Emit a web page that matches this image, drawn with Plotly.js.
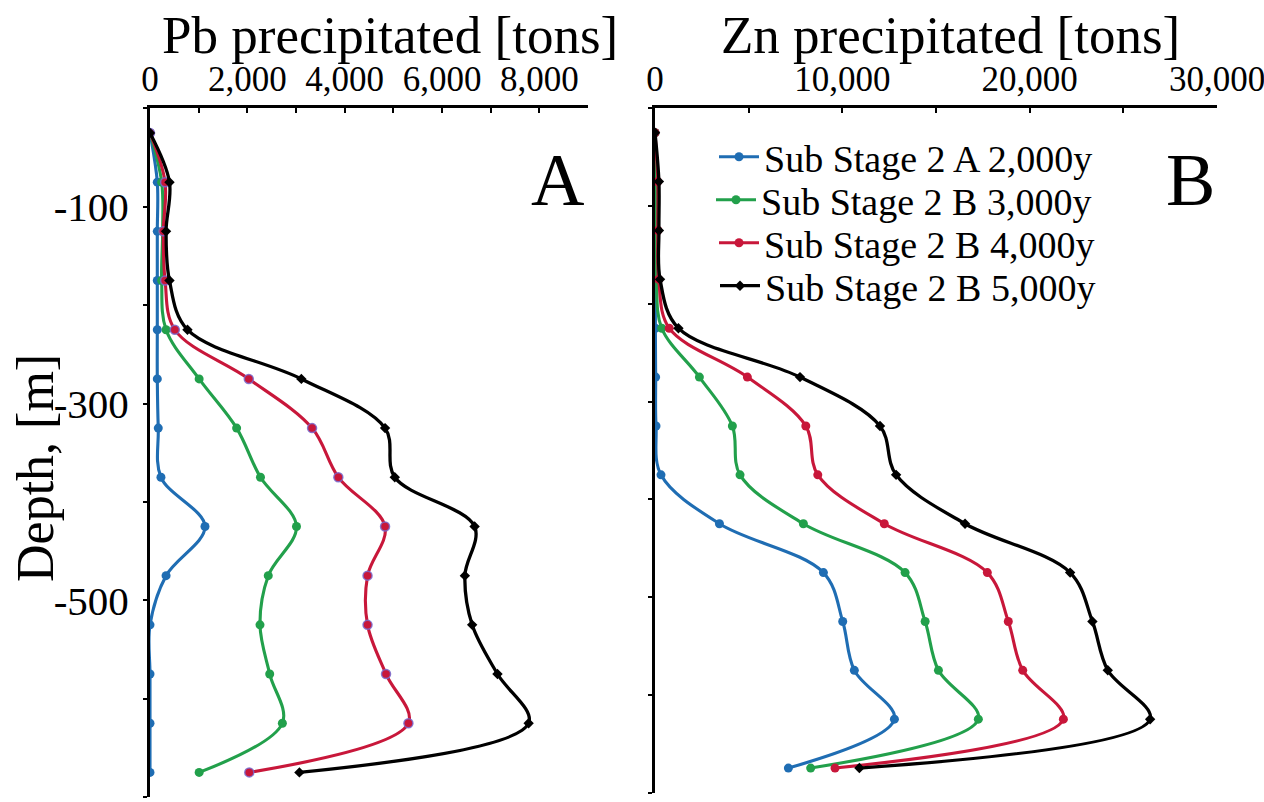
<!DOCTYPE html>
<html>
<head>
<meta charset="utf-8">
<script src="https://cdn.plot.ly/plotly-3.0.1.min.js"></script>
<style>
  html, body { margin: 0; padding: 0; background: #ffffff; }
  #chart { width: 1264px; height: 802px; }
</style>
</head>
<body>
<div id="chart"></div>
<script>
// ---------------- data ----------------
const depth = [-25, -75, -125, -175, -225, -275, -325, -375, -425, -475, -525, -575, -625, -675];

const seriesNames = [
  "Sub Stage 2 A 2,000y",
  "Sub Stage 2 B 3,000y",
  "Sub Stage 2 B 4,000y",
  "Sub Stage 2 B 5,000y"
];

// Pb precipitated [tons]
const pb2000 = [0, 150, 150, 150, 150, 150, 170, 225, 1130, 330, 0, 0, 0, 0];
const pb3000 = [0, 240, 260, 240, 330, 1010, 1780, 2270, 3010, 2430, 2260, 2460, 2720, 1010];
const pb4000 = [0, 310, 275, 310, 510, 2030, 3330, 3870, 4830, 4470, 4470, 4850, 5310, 2040];
const pb5000 = [0, 400, 330, 400, 770, 3110, 4830, 5030, 6670, 6470, 6620, 7140, 7780, 3070];

// Zn precipitated [tons]
const zn2000 = [0, 20, 20, 20, 20, 35, 55, 320, 3440, 8990, 10020, 10640, 12780, 7120];
const zn3000 = [0, 80, 80, 80, 360, 2370, 4130, 4540, 7920, 13350, 14420, 15130, 17260, 8310];
const zn4000 = [0, 150, 150, 200, 760, 4930, 8050, 8690, 12240, 17740, 18860, 19630, 21800, 9610];
const zn5000 = [0, 210, 210, 270, 1250, 7740, 12010, 12870, 16550, 22160, 23350, 24170, 26430, 10910];

const yTickVals = [-100, -300, -500, -700];
const yTickLabels = ["-100", "-300", "-500", "-700"];

const titleA = "Pb precipitated [tons]";
const titleB = "Zn precipitated [tons]";
const yTitle = "Depth, [m]";
const panelA = "A";
const panelB = "B";

// ---------------- styling ----------------
const W = 1264, H = 802;
const FONT = "Liberation Serif";
const colors = ["#1F6DB3", "#22A04B", "#C8173A", "#000000"];
const symbols = ["circle", "circle", "circle", "diamond"];
const lineW = [3.1, 3.1, 3.1, 3.3];
const mSize = [9, 9, 9, 8];

const px = v => v / W;
const py = v => 1 - v / H;

const pbSeries = [pb2000, pb3000, pb4000, pb5000];
const znSeries = [zn2000, zn3000, zn4000, zn5000];
const legendIds = ["legend", "legend2", "legend3", "legend4"];

const traces = [];
pbSeries.forEach((vals, i) => {
  traces.push({
    type: "scatter", mode: "lines+markers",
    x: vals, y: depth, xaxis: "x", yaxis: "y",
    name: seriesNames[i], showlegend: false, cliponaxis: true,
    line: { color: colors[i], width: lineW[i], shape: "spline", smoothing: 1 },
    marker: {
      color: colors[i], size: mSize[i], symbol: symbols[i],
      line: i === 2 ? { color: "rgba(120,105,205,0.85)", width: 1.5 } : { width: 0 }
    },
    hoverinfo: "skip"
  });
});
znSeries.forEach((vals, i) => {
  traces.push({
    type: "scatter", mode: "lines+markers",
    x: vals, y: depth, xaxis: "x2", yaxis: "y2",
    name: seriesNames[i], showlegend: true, legend: legendIds[i], cliponaxis: true,
    line: { color: colors[i], width: lineW[i], shape: "spline", smoothing: 1 },
    marker: { color: colors[i], size: mSize[i], symbol: symbols[i], line: { width: 0 } },
    hoverinfo: "skip"
  });
});

const axisCommon = {
  showline: true, linewidth: 3, linecolor: "#000",
  showgrid: false, zeroline: false,
  tickcolor: "#000", tickwidth: 2,
  fixedrange: true
};

// legend entry centres (px) and left offsets
const legY = [157, 200, 243, 286];
const legX = [714, 711, 714, 715];

const layout = {
  width: W, height: H,
  margin: { l: 0, r: 0, t: 0, b: 0 },
  paper_bgcolor: "#fff", plot_bgcolor: "#fff",
  font: { family: FONT, color: "#000" },
  xaxis: Object.assign({}, axisCommon, {
    domain: [px(150), px(588)], range: [0, 9000], anchor: "y", side: "top",
    tick0: 0, dtick: 2000, tickformat: ",d", ticks: "inside", ticklen: 5,
    minor: { dtick: 1000, tick0: 0, ticks: "inside", ticklen: 5, tickwidth: 2, tickcolor: "#000" },
    tickfont: { family: FONT, size: 35, color: "#000" },
    ticklabeloverflow: "allow"
  }),
  yaxis: Object.assign({}, axisCommon, {
    domain: [py(797), py(108.4)], range: [-700, 0], anchor: "x",
    tickmode: "array", tickvals: yTickVals, ticktext: yTickLabels,
    ticks: "outside", ticklen: 4,
    minor: { dtick: 100, tick0: 0, ticks: "outside", ticklen: 4, tickwidth: 2, tickcolor: "#000" },
    tickfont: { family: FONT, size: 41, color: "#000" },
    ticklabelstandoff: 6
  }),
  xaxis2: Object.assign({}, axisCommon, {
    domain: [px(655), px(1217)], range: [0, 30000], anchor: "y2", side: "top",
    tick0: 0, dtick: 10000, tickformat: ",d", ticks: "inside", ticklen: 5,
    minor: { dtick: 5000, tick0: 0, ticks: "inside", ticklen: 5, tickwidth: 2, tickcolor: "#000" },
    tickfont: { family: FONT, size: 35, color: "#000" },
    ticklabeloverflow: "allow"
  }),
  yaxis2: Object.assign({}, axisCommon, {
    domain: [py(792.5), py(108.3)], range: [-700, 0], anchor: "x2",
    showticklabels: false, tick0: 0, dtick: 100, ticks: "outside", ticklen: 4
  }),
  annotations: [
    { text: titleA, xref: "paper", yref: "paper", x: px(390), y: py(35), xanchor: "center", yanchor: "middle",
      showarrow: false, font: { family: FONT, size: 53, color: "#000" } },
    { text: titleB, xref: "paper", yref: "paper", x: px(950), y: py(35), xanchor: "center", yanchor: "middle",
      showarrow: false, font: { family: FONT, size: 53, color: "#000" } },
    { text: yTitle, xref: "paper", yref: "paper", x: px(36), y: py(468), xanchor: "center", yanchor: "middle",
      textangle: -90, showarrow: false, font: { family: FONT, size: 52, color: "#000" } },
    { text: panelA, xref: "paper", yref: "paper", x: px(557), y: py(180), xanchor: "center", yanchor: "middle",
      showarrow: false, font: { family: FONT, size: 74, color: "#000" } },
    { text: panelB, xref: "paper", yref: "paper", x: px(1190), y: py(180), xanchor: "center", yanchor: "middle",
      showarrow: false, font: { family: FONT, size: 74, color: "#000" } }
  ]
};

legendIds.forEach((id, i) => {
  layout[id] = {
    x: px(legX[i]), y: py(legY[i]), xanchor: "left", yanchor: "middle",
    bgcolor: "rgba(0,0,0,0)", borderwidth: 0, itemwidth: 40,
    font: { family: FONT, size: 38, color: "#000" },
    itemclick: false, itemdoubleclick: false
  };
});

Plotly.newPlot("chart", traces, layout, { displayModeBar: false, staticPlot: true });
</script>
</body>
</html>
